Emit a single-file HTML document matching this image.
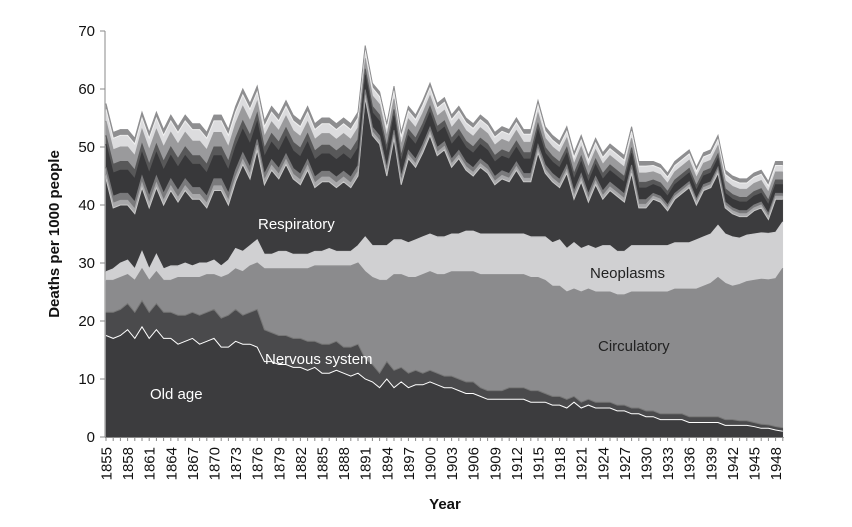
<!DOCTYPE html>
<html><head><meta charset="utf-8"><style>
body{margin:0;background:#fff;}
svg{display:block;font-family:"Liberation Sans",sans-serif;}
</style></head><body>
<svg id="chart" width="852" height="527" viewBox="0 0 852 527">
<g id="areas"></g>
<g id="axes"></g>
<text x="258" y="229" fill="#fff" font-size="15">Respiratory</text>
<text x="590" y="278" fill="#222" font-size="15">Neoplasms</text>
<text x="598" y="351" fill="#222" font-size="15">Circulatory</text>
<text x="265" y="364" fill="#fff" font-size="15">Nervous system</text>
<text x="150" y="399" fill="#fff" font-size="15">Old age</text>
<text x="445" y="509" text-anchor="middle" font-size="15" font-weight="bold" fill="#111">Year</text>
<text transform="translate(59,234) rotate(-90)" text-anchor="middle" font-size="15" font-weight="bold" fill="#111">Deaths per 1000 people</text>
</svg>
<script>
const startYear = 1855;
const oldAge = [17.5,17,17.5,18.5,17,19,17,18.5,17,17, 16,16.5,17,16,16.5,17,15.5,15.5,16.5,16, 16,15.5,13,13,12.5,12.5,12,12,11.5,12, 11,11,11.5,11,10.5,11,10,9.5,8.5,10, 8.5,9.5,8.5,9,9,9.5,9,8.5,8.5,8, 7.5,7.5,7,6.5,6.5,6.5,6.5,6.5,6.5,6, 6,6,5.5,5.5,5,6,5,5.5,5,5, 5,4.5,4.5,4,4,3.5,3.5,3,3,3, 3,2.5,2.5,2.5,2.5,2.5,2,2,2,2, 1.8,1.5,1.5,1.2,1];
const nervous = [4,4.5,4.5,4.5,4.5,4.5,4.5,4.5,4.5,4.5, 5,4.5,4.5,5,5,5,5,5.5,5.5,5, 5.5,6.5,5.5,5,5,5,5,5,5,4.5, 5,5,5,4.5,5,5,3.5,3,2.5,3, 3,2.5,2.5,2.5,2,2,2,2,2,2, 2,2,1.5,1.5,1.5,1.5,2,2,2,2, 2,1.5,1.5,1.5,1.5,1,1,1,1,1, 1,1,1,1,1,1,1,1,1,1, 1,1,1,1,1,1,1,1,0.8,0.8, 0.7,0.7,0.6,0.6,0.6];
const circulatory = [5.5,5.5,5.5,5,5.5,5.5,5.5,5.5,5.5,5.5, 6.5,6.5,6,6.5,6.5,6,7,7,7,7.5, 8,8,10.5,11,11.5,11.5,12,12,12.5,13, 13.5,13.5,13,14,14,14,15,15,16,14, 16.5,16,16.5,16,17,17,17,17.5,18,18.5, 19,19,19.5,20,20,20,19.5,19.5,19.5,19.5, 19.5,19.5,19,19,18.5,18.5,19,19,19,19, 19,19,19,20,20,20.5,20.5,21,21,21.5, 21.5,22,22,22.5,23,24,23.5,23,23.5,24, 24.5,25,25,25.5,27.5];
const neoplasms = [1.5,2,2.5,2.5,2,3,2,3,2,2.5, 2,2.5,2,2.5,2,2.5,2,2.5,3.5,3.5, 3.5,4,2.5,2.5,3,3,2.5,2.5,2.5,2.5, 2.5,3,2.5,2.5,2.5,3,6,5.5,6,6, 6,6,6,6.5,6.5,6.5,6.5,6.5,6.5,6.5, 7,7,7,7,7,7,7,7,7,7, 7,7.5,7.5,8,7.5,8,7.5,7.5,7.5,8, 8,7.5,7.5,8,8,8,8,8,8,8, 8,8,8.5,8.5,8.5,9,8.5,8.5,8,8, 8,8,8,8,8];
const respiratory = [16,10.5,10,9.5,9.5,11,10.5,11.5,11,13, 11,12.5,11.5,11,9.5,12,13,9.5,11.5,15, 11.5,15.5,12,14.5,12.5,15,13,12,14.5,11, 12,11.5,11,12,11,12,24,19,17.5,12, 17.5,9.5,14.5,12.5,14.5,17,14,15,11.5,13, 10.5,9.5,11.5,10.5,8.5,9.5,9,11,9,9.5, 14.5,11,10.5,9,13,7.5,11.5,7.5,11,8, 9.5,9.5,8.5,12.5,6.5,6.5,8,7.5,6,7.5, 8.5,9.5,6,8,8,9,4.5,4,3.7,3.2, 4,4.3,2.4,5.7,3.9];
const other1 = [0.8,0.8,0.8,0.8,0.8,0.8,0.8,0.8,0.8,0.8,0.8,0.8,0.8,0.8,0.8,0.8,0.8,0.8,0.8,0.8,0.8, 0.8,0.8,0.8,0.8,0.8,0.8,0.8,0.8,0.8,0.8,0.8,0.8,0.8,0.8,0.8, 0.6,0.6,0.6,0.6,0.6,0.6,0.6,0.6,0.6,0.6,0.6,0.6,0.6,0.6,0.6,0.6,0.6,0.6,0.6,0.6,0.6,0.6,0.6,0.6,0.6, 0.6,0.6,0.6,0.6,0.6,0.6,0.6,0.6,0.6,0.6,0.6,0.6,0.6,0.6,0.6, 0.5,0.5,0.5,0.5,0.5,0.5,0.5,0.5,0.5,0.5,0.5,0.5,0.5,0.5,0.5,0.5,0.5,0.5,0.5];
const other2 = [1.2,1.2,1.2,1.2,1.2,1.2,1.2,1.2,1.2,1.2,1.2,1.2,1.2,1.2,1.2,1.2,1.2,1.2,1.2,1.2,1.2, 1,1,1,1,1,1,1,1,1,1,1,1,1,1,1, 0.8,0.8,0.8,0.8,0.8,0.8,0.8,0.8,0.8,0.8,0.8,0.8,0.8,0.8,0.8,0.8,0.8,0.8,0.8,0.8,0.8,0.8,0.8,0.8,0.8, 0.8,0.8,0.8,0.8,0.8,0.8,0.8,0.8,0.8,0.8,0.8,0.8,0.8,0.8,0.8, 0.5,0.5,0.5,0.5,0.5,0.5,0.5,0.5,0.5,0.5,0.5,0.5,0.5,0.5,0.5,0.5,0.5,0.5,0.5];
const other3 = [4,4,4,4,4,4,4,4,4,4,4,4,4,4,4,4,4,4,4,4,4, 3,3,3,3,3,3,3,3,3,3,3,3,3,3,3, 2.5,2.5,2.5,2.5,2.5,2.5,2.5,2.5,2.5,2.5,2.5,2.5,2.5,2.5,2.5,2.5,2.5,2.5,2.5,2.5,2.5,2.5,2.5,2.5,2.5, 2,2,2,2,2,2,2,2,2,2,2,2,2,2,2, 1.5,1.5,1.5,1.5,1.5,1.5,1.5,1.5,1.5,1.5,1.5,1.5,1.5,1.5,1.5,1.5,1.5,1.5,1.5];
const other4 = [1.5,1.5,1.5,1.5,1.5,1.5,1.5,1.5,1.5,1.5,1.5,1.5,1.5,1.5,1.5,1.5,1.5,1.5,1.5,1.5,1.5, 1.5,1.5,1.5,1.5,1.5,1.5,1.5,1.5,1.5,1.5,1.5,1.5,1.5,1.5,1.5, 1.1,1.1,1.1,1.1,1.1,1.1,1.1,1.1,1.1,1.1,1.1,1.1,1.1,1.1,1.1,1.1,1.1,1.1,1.1,1.1,1.1,1.1,1.1,1.1,1.1, 1,1,1,1,1,1,1,1,1,1,1,1,1,1,1, 0.8,0.8,0.8,0.8,0.8,0.8,0.8,0.8,0.8,0.8,0.8,0.8,0.8,0.8,0.8,0.8,0.8,0.8,0.8];
const other5 = [2.5,2.5,2.5,2.5,2.5,2.5,2.5,2.5,2.5,2.5,2.5,2.5,2.5,2.5,2.5,2.5,2.5,2.5,2.5,2.5,2.5, 2,2,2,2,2,2,2,2,2,2,2,2,2,2,2, 1.8,1.8,1.8,1.8,1.8,1.8,1.8,1.8,1.8,1.8,1.8,1.8,1.8,1.8,1.8,1.8,1.8,1.8,1.8,1.8,1.8,1.8,1.8,1.8,1.8, 1.6,1.6,1.6,1.6,1.6,1.6,1.6,1.6,1.6,1.6,1.6,1.6,1.6,1.6,1.6, 1.4,1.4,1.4,1.4,1.4,1.4,1.4,1.4,1.4,1.4,1.4,1.4,1.4,1.4,1.4,1.4,1.4,1.4,1.4];
const other6 = [2,2,2,2,2,2,2,2,2,2,2,2,2,2,2,2,2,2,2,2,2, 1.7,1.7,1.7,1.7,1.7,1.7,1.7,1.7,1.7,1.7,1.7,1.7,1.7,1.7,1.7, 1.4,1.4,1.4,1.4,1.4,1.4,1.4,1.4,1.4,1.4,1.4,1.4,1.4,1.4,1.4,1.4,1.4,1.4,1.4,1.4,1.4,1.4,1.4,1.4,1.4, 1.2,1.2,1.2,1.2,1.2,1.2,1.2,1.2,1.2,1.2,1.2,1.2,1.2,1.2,1.2, 1.1,1.1,1.1,1.1,1.1,1.1,1.1,1.1,1.1,1.1,1.1,1.1,1.1,1.1,1.1,1.1,1.1,1.1,1.1];
const other7 = [1,1,1,1,1,1,1,1,1,1,1,1,1,1,1,1,1,1,1,1,1, 1,1,1,1,1,1,1,1,1,1,1,1,1,1,1, 0.8,0.8,0.8,0.8,0.8,0.8,0.8,0.8,0.8,0.8,0.8,0.8,0.8,0.8,0.8,0.8,0.8,0.8,0.8,0.8,0.8,0.8,0.8,0.8,0.8, 0.8,0.8,0.8,0.8,0.8,0.8,0.8,0.8,0.8,0.8,0.8,0.8,0.8,0.8,0.8, 0.7,0.7,0.7,0.7,0.7,0.7,0.7,0.7,0.7,0.7,0.7,0.7,0.7,0.7,0.7,0.7,0.7,0.7,0.7];
const yTicks = [0,10,20,30,40,50,60,70];
const xTickStep = 3;

const NS = "http://www.w3.org/2000/svg";
const X0 = 106, DX = 7.2, Y0 = 437, SY = 5.8;
function xs(i){ return X0 + i*DX; }
function ys(v){ return Y0 - v*SY; }

const layers = [
  {name:"area-old-age", data:oldAge, fill:"#3c3c3e", stroke:"#fff"},
  {name:"area-nervous-system", data:nervous, fill:"#4a4a4c", stroke:"#777"},
  {name:"area-circulatory", data:circulatory, fill:"#8b8b8d", stroke:"#8b8b8d"},
  {name:"area-neoplasms", data:neoplasms, fill:"#d0d0d2", stroke:"#d0d0d2"},
  {name:"area-respiratory", data:respiratory, fill:"#3c3c3e", stroke:"#c8c8c8"},
  {name:"area-other-1", data:other1, fill:"#a8a8aa", stroke:"#a8a8aa"},
  {name:"area-other-2", data:other2, fill:"#7a7a7c", stroke:"#7a7a7c"},
  {name:"area-other-3", data:other3, fill:"#38383a", stroke:"#38383a"},
  {name:"area-other-4", data:other4, fill:"#585859", stroke:"#585859"},
  {name:"area-other-5", data:other5, fill:"#9a9a9c", stroke:"#9a9a9c"},
  {name:"area-other-6", data:other6, fill:"#dcdcde", stroke:"#f0f0f0"},
  {name:"area-other-7", data:other7, fill:"#8e8e90", stroke:"#8e8e90"}
];
const n = oldAge.length;
let base = new Array(n).fill(0);
const areasG = document.getElementById("areas");
const topLines = [];
layers.forEach(L=>{
  const top = base.map((b,i)=>b+L.data[i]);
  let d = "M" + xs(0) + "," + ys(top[0]);
  for(let i=1;i<n;i++) d += "L" + xs(i) + "," + ys(top[i]);
  let up = d;
  for(let i=n-1;i>=0;i--) d += "L" + xs(i) + "," + ys(base[i]);
  d += "Z";
  const p = document.createElementNS(NS,"path");
  p.setAttribute("d", d);
  p.setAttribute("fill", L.fill);
  p.setAttribute("stroke", L.fill);
  p.setAttribute("stroke-width", "0.5");
  
  
  areasG.appendChild(p);
  topLines.push({d:up, stroke:L.stroke, name:L.name});
  base = top;
});
topLines.forEach(t=>{
  const l = document.createElementNS(NS,"path");
  l.setAttribute("d", t.d);
  l.setAttribute("fill","none");
  l.setAttribute("stroke", t.stroke);
  l.setAttribute("stroke-width","1");
  
  
  areasG.appendChild(l);
});

const axes = document.getElementById("axes");
function line(x1,y1,x2,y2,name){
  const l = document.createElementNS(NS,"line");
  l.setAttribute("x1",x1);l.setAttribute("y1",y1);l.setAttribute("x2",x2);l.setAttribute("y2",y2);
  l.setAttribute("stroke","#888");l.setAttribute("stroke-width","1");
  
  
  axes.appendChild(l);
}
line(105, ys(70), 105, Y0, "y-axis-line");
line(105, Y0+0.5, xs(n-1)+1, Y0+0.5, "x-axis-line");
yTicks.forEach(v=>{
  line(100, ys(v), 105, ys(v), "y-tick");
  const t = document.createElementNS(NS,"text");
  t.setAttribute("x", 95); t.setAttribute("y", ys(v)+5);
  t.setAttribute("text-anchor","end"); t.setAttribute("font-size","15"); t.setAttribute("fill","#111");
  t.textContent = v;
  
  
  axes.appendChild(t);
});
for(let i=0;i<n;i++){
  line(xs(i), Y0, xs(i), Y0+4, "x-tick");
  if(i % xTickStep === 0){
    const t = document.createElementNS(NS,"text");
    const x = xs(i)+5.5, y = 447;
    t.setAttribute("transform","translate("+x+","+y+") rotate(-90)");
    t.setAttribute("text-anchor","end"); t.setAttribute("font-size","15"); t.setAttribute("fill","#111");
    t.textContent = startYear + i;
    
    
    axes.appendChild(t);
  }
}
</script>
</body></html>
